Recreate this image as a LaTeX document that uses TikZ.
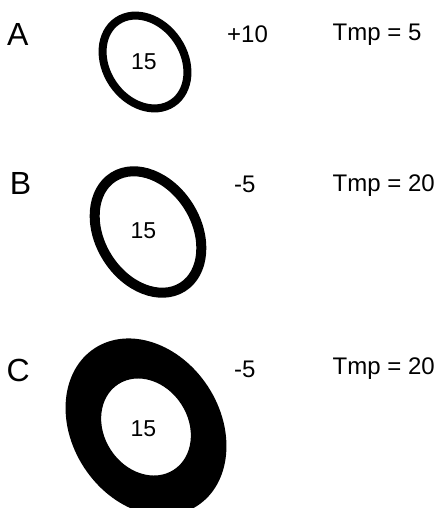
\documentclass[tikz,border=0pt]{standalone}
\usepackage{fontspec}
\setmainfont{Liberation Sans}
\begin{document}
\begin{tikzpicture}[x=1pt,y=-1pt,
  big/.style={inner sep=0pt,anchor=base west,font=\fontsize{32}{36}\selectfont},
  lab/.style={inner sep=0pt,anchor=base west,font=\fontsize{24}{28}\selectfont},
  num/.style={inner sep=0pt,anchor=center,font=\fontsize{23}{27}\selectfont}]
\useasboundingbox[fill=white] (0,0) rectangle (439,508);
\clip (0,0) rectangle (439,508);
% ring A
\draw[line width=8pt,shift={(145,62)},rotate=34] (0,0) ellipse [x radius=38.8pt, y radius=49.5pt];
% ring B
\draw[line width=10pt,shift={(148,232)},rotate=32] (0,0) ellipse [x radius=48pt, y radius=65pt];
% ring C
\fill[even odd rule,shift={(146,427)},rotate=33]
  (0,0) ellipse [x radius=74pt, y radius=94pt]
  (0,0) ellipse [x radius=42pt, y radius=51pt];
% labels
\node[big] (la) at (7,46) {A};
\node[big] (lb) at (9.7,194) {B};
\node[big] (lc) at (6.4,381) {C};
\node[num] (na) at (144,62) {15};
\node[num] (nb) at (143.5,230.5) {15};
\node[num] (nc) at (143.5,428.5) {15};
\node[lab] (da) at (227,43) {+10};
\node[lab] (db) at (234,192) {-5};
\node[lab] (dc) at (234,377) {-5};
\node[lab] (ta) at (332.5,41) {Tmp = 5};
\node[lab] (tb) at (332.5,191) {Tmp = 20};
\node[lab] (tc) at (332.5,374.5) {Tmp = 20};
\end{tikzpicture}
\end{document}
